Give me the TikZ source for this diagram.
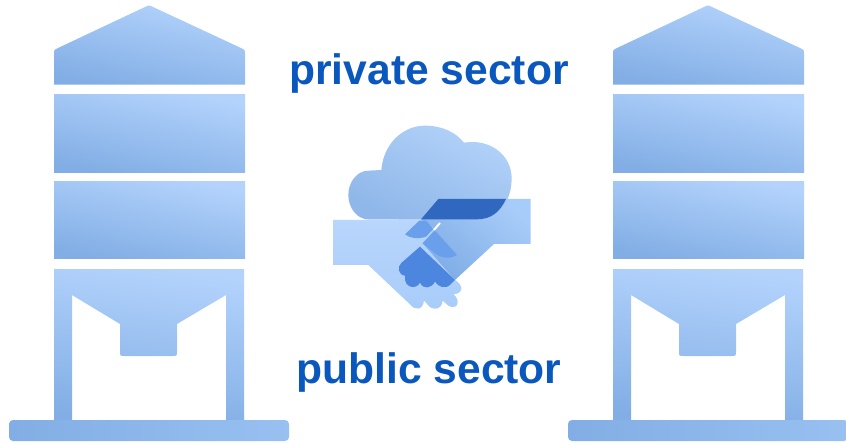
\documentclass[tikz,border=0pt]{standalone}
\usepackage{fontspec}
\setmainfont{Liberation Sans}
\definecolor{silolight}{HTML}{B3D3FC}
\definecolor{silodark}{HTML}{82AEE5}
\definecolor{basepale}{HTML}{98C0F1}
\definecolor{cloudpale}{HTML}{B2D2F9}
\definecolor{cloudshade}{HTML}{8FB7E9}
\definecolor{handpale}{HTML}{B9D6FC}
\definecolor{handshade}{HTML}{84B0E8}
\definecolor{grippale}{HTML}{A8CCF9}
\definecolor{gripshade}{HTML}{7FADE6}
\definecolor{overlapmid}{HTML}{6A9FEB}
\definecolor{overlapdeep}{HTML}{4C86DF}
\definecolor{cloudcut}{HTML}{2F68BE}
\definecolor{labelblue}{HTML}{0A58BE}
\tikzset{
    silopart/.style={top color=silolight,bottom color=silodark,shading angle=-12},
    sectorlabel/.style={font=\fontsize{42.6}{46}\selectfont\bfseries,text=labelblue,anchor=base,inner sep=0pt}
}
\begin{document}
\begin{tikzpicture}[x=1pt,y=-1pt]
    \useasboundingbox (0,0) rectangle (846,442);
    % both silos
    \foreach \siloshift in {0,559} {
        \begin{scope}[xshift=\siloshift pt]
            \path[silopart] (54,84.5) -- (54,54) .. controls (54,50) .. (58,48) -- (145,7) .. controls (149,5) .. (153,7) -- (241,48) .. controls (245,50) .. (245,54) -- (245,84.5) -- cycle;
            \path[silopart] (54,94) rectangle (245,172);
            \path[silopart] (54,181.5) rectangle (245,258);
            \path[silopart,even odd rule,shading angle=-8] (54,269) -- (244,269) -- (244,421) -- (54,421) -- cycle
                (72,295) -- (120,324) -- (120,351) .. controls (120,356) .. (125,356) -- (172,356) .. controls (177,356) .. (177,351) -- (177,324) -- (226,295) -- (226,420) -- (72,420) -- cycle;
            \path[left color=silodark,right color=basepale,rounded corners=4pt] (9,420) rectangle (289,441);
        \end{scope}
    }
    % handshake under the cloud
    \begin{scope}[shift={(320,110)},x=0.3333pt,y=-0.3333pt]
        \path[top color=handpale,bottom color=grippale] (40,330) -- (303,328) -- (345,358) -- (405,510)
            .. controls (430,525) and (432,550) .. (401,553)
            .. controls (425,575) and (410,602) .. (385,587) -- (368,572)
            .. controls (365,602) and (335,602) .. (322,583) -- (312,572)
            .. controls (308,602) and (285,602) .. (270,583) -- (145,465) -- (40,465) -- cycle;
        \path[top color=grippale,bottom color=gripshade,shading angle=-40] (355,267) -- (632,267) -- (632,402) -- (522,402) -- (405,510) -- (308,400) -- (345,358) -- (303,328) -- cycle;
        \path[top color=cloudpale,bottom color=cloudshade,shading angle=-25] (145,328)
            .. controls (112,328) and (85,295) .. (85,255)
            .. controls (85,215) and (112,182) .. (145,182) -- (184,180)
            .. controls (190,105) and (245,47) .. (315,47)
            .. controls (365,47) and (405,65) .. (432,98)
            .. controls (510,85) and (575,135) .. (575,205)
            .. controls (575,280) and (530,328) .. (470,328) -- cycle;
        \path[fill=cloudcut] (355,267) -- (558,267) .. controls (540,305) and (515,328) .. (470,328) -- (303,328) -- cycle;
        \path[fill=overlapmid] (298,332) -- (318,332) -- (340,357) -- (318,380)
            .. controls (295,388) and (270,385) .. (255,373) -- cycle;
        \path[fill=overlapmid] (345,362) -- (411,435)
            .. controls (385,450) and (360,442) .. (345,430) -- (308,400) -- cycle;
        \path[fill=overlapdeep] (300,410) -- (405,510) -- (392,523)
            .. controls (375,540) and (355,530) .. (345,515)
            .. controls (335,535) and (310,540) .. (300,518)
            .. controls (290,540) and (250,535) .. (255,497)
            .. controls (235,495) and (230,470) .. (245,458) -- cycle;
        \draw[white,line width=2pt] (342,360) -- (360,339);
    \end{scope}
    \node[sectorlabel] (privatelabel) at (429,84) {private sector};
    \node[sectorlabel] (publiclabel) at (429,383) {public sector};
\end{tikzpicture}
\end{document}
